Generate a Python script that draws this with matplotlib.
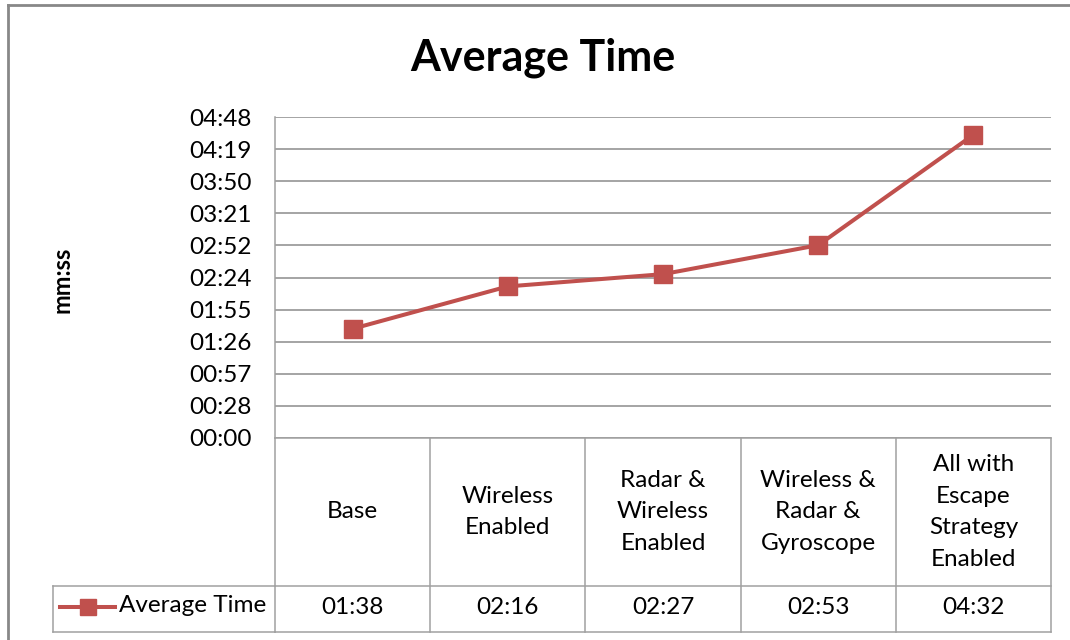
import matplotlib
matplotlib.use("Agg")
import matplotlib.pyplot as plt
from matplotlib.lines import Line2D
from matplotlib.ticker import FixedLocator, FuncFormatter
import matplotlib.transforms as mtransforms

plt.rcParams['font.family'] = ['Lato', 'DejaVu Sans']

categories = ["Base", "Wireless\nEnabled", "Radar &\nWireless\nEnabled",
              "Wireless &\nRadar &\nGyroscope", "All with\nEscape\nStrategy\nEnabled"]
avg_seconds = [98, 136, 147, 173, 272]
series_name = "Average Time"
y_max = 288
n_ticks = 10

W, H = 1070, 640
fig = plt.figure(figsize=(W / 100, H / 100), dpi=100)

def fx(px):
    return px / W

def fy(py):
    return 1 - py / H

FS = 17.5
ax = fig.add_axes([fx(275), fy(438), fx(1051) - fx(275), fy(117) - fy(438)])
line_color = '#C0504D'
grid_color = '#8C8C8C'
tab_color = '#A0A0A0'
txt_color = '#000000'

x = list(range(len(categories)))
ax.plot(x, avg_seconds, color=line_color, lw=2.9, marker='s', markersize=13,
        markeredgecolor=line_color, markerfacecolor=line_color, zorder=3)
ax.set_xlim(-0.5, len(categories) - 0.5)
ax.set_ylim(0, y_max)
ticks = [y_max * i / n_ticks for i in range(n_ticks + 1)]
ax.yaxis.set_major_locator(FixedLocator(ticks))

def mmss(v, pos=None):
    s = int(v + 1e-6)
    return f"{s // 60:02d}:{s % 60:02d}"

ax.yaxis.set_major_formatter(FuncFormatter(mmss))
ax.tick_params(axis='y', length=0, labelsize=FS, pad=17, colors=txt_color)
ax.set_xticks([])
ax.grid(axis='y', color=grid_color, lw=1.1)
ax.set_axisbelow(True)
for s in ['top', 'right', 'bottom']:
    ax.spines[s].set_visible(False)
ax.spines['left'].set_color(tab_color)
ax.spines['left'].set_linewidth(1.1)

fig.text(fx(543), fy(58), "Average Time", ha='center', va='center',
         fontsize=31, fontweight='bold', color=txt_color)
fig.text(fx(62), fy(280), "mm:ss", ha='center', va='center', rotation=90,
         fontsize=17, fontweight='bold', color=txt_color)

# data table
bt = mtransforms.blended_transform_factory(ax.transData, fig.transFigure)
y_top, y_mid, y_bot = fy(438), fy(586), fy(632)
x_edges = [i - 0.5 for i in range(len(categories) + 1)]
for xe in x_edges:
    fig.add_artist(Line2D([xe, xe], [y_top, y_bot], transform=bt, color=tab_color, lw=1.1))
for yy in [y_top, y_mid, y_bot]:
    fig.add_artist(Line2D([x_edges[0], x_edges[-1]], [yy, yy], transform=bt, color=tab_color, lw=1.1))
# legend cell
for yy in [y_mid, y_bot]:
    fig.add_artist(Line2D([fx(53), fx(275)], [yy, yy], transform=fig.transFigure, color=tab_color, lw=1.1))
fig.add_artist(Line2D([fx(53), fx(53)], [y_mid, y_bot], transform=fig.transFigure, color=tab_color, lw=1.1))
fig.add_artist(Line2D([fx(60), fx(115)], [fy(607), fy(607)], transform=fig.transFigure,
                      color=line_color, lw=2.9))
fig.add_artist(Line2D([fx(88)], [fy(607)], transform=fig.transFigure, marker='s', markersize=12,
                      color=line_color, lw=0))
fig.text(fx(119), fy(606), series_name, ha='left', va='center', fontsize=FS, color=txt_color)

for i, (c, v) in enumerate(zip(categories, avg_seconds)):
    fig.text(i, fy(512), c, transform=bt, ha='center', va='center', fontsize=FS,
             linespacing=1.62, color=txt_color)
    fig.text(i, fy(607), mmss(v), transform=bt, ha='center', va='center', fontsize=FS,
             color=txt_color)

# outer chart frame (top and left visible)
fig.add_artist(Line2D([fx(8), fx(1070)], [fy(5), fy(5)], transform=fig.transFigure, color='#888888', lw=2))
fig.add_artist(Line2D([fx(8), fx(8)], [fy(5), fy(640)], transform=fig.transFigure, color='#888888', lw=2))

fig.savefig("out.png", dpi=100)
